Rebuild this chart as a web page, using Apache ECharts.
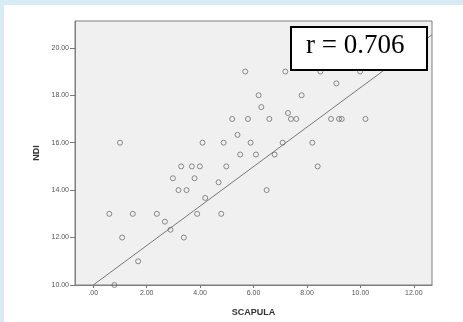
<!DOCTYPE html>
<html>
<head>
<meta charset="utf-8">
<script src="https://cdn.jsdelivr.net/npm/echarts@6/dist/echarts.min.js"></script>
<style>
html,body{margin:0;padding:0;background:#fff;}
#c{width:463px;height:322px;}
</style>
</head>
<body>
<div id="c"></div>
<script>
// Scatter data: SCAPULA (x) vs NDI (y)
const scapula = [0.6,1.0,1.08,0.79,1.48,1.68,2.38,2.68,2.89,2.98,3.19,3.29,3.39,3.49,3.69,3.79,3.89,3.99,4.09,4.19,4.69,4.79,4.88,4.98,5.2,5.4,5.5,5.69,5.79,5.89,6.09,6.19,6.29,6.49,6.59,6.79,7.09,7.19,7.29,7.4,7.6,7.8,8.2,8.4,8.5,8.9,9.1,9.2,9.3,9.99,10.19];
const ndi     = [13,16,12,10,13,11,13,12.67,12.33,14.5,14,15,12,14,15,14.5,13,15,16,13.67,14.33,13,16,15,17,16.33,15.5,19,17,16,15.5,18,17.5,14,17,15.5,16,19,17.25,17,17,18,16,15,19,17,18.5,17,17,19,17];
// Fit line endpoints
const fitX = [0, 12.68];
const fitY = [10, 20.55];
const xTicks = [0,2,4,6,8,10,12];
const yTicks = [10,12,14,16,18,20];
const rText = 'r = 0.706';

const pts = scapula.map((x,i)=>[x, ndi[i]]);
const fit = fitX.map((x,i)=>[x, fitY[i]]);
const fmt = v => (Math.abs(v) < 1e-9 ? '.00' : Number(v).toFixed(2));

const chart = echarts.init(document.getElementById('c'), null, {renderer:'canvas'});
chart.setOption({
  backgroundColor:'#ffffff',
  animation:false,
  grid:{left:75, top:21, width:357, height:268, show:true, backgroundColor:'#f0f0f0', borderColor:'#7f7f7f', borderWidth:1},
  xAxis:{
    type:'value', min:-0.684, max:12.68,
    name:'SCAPULA', nameLocation:'middle', nameGap:23,
    nameTextStyle:{fontFamily:'Liberation Sans, Arial', fontWeight:'bold', fontSize:9, color:'#333'},
    axisLine:{show:true, onZero:false, lineStyle:{color:'#7f7f7f'}},
    axisTick:{show:true, length:3, lineStyle:{color:'#777'}, customValues:xTicks},
    axisLabel:{fontFamily:'Liberation Sans, Arial', fontSize:7, color:'#555', margin:5, formatter:fmt, customValues:xTicks},
    splitLine:{show:false}
  },
  yAxis:{
    type:'value', min:10, max:21.13,
    name:'NDI', nameLocation:'middle', nameGap:32, nameRotate:90,
    nameTextStyle:{fontFamily:'Liberation Sans, Arial', fontWeight:'bold', fontSize:9, color:'#333'},
    axisLine:{show:true, onZero:false, lineStyle:{color:'#7f7f7f'}},
    axisTick:{show:true, length:5, lineStyle:{color:'#777'}, customValues:yTicks},
    axisLabel:{fontFamily:'Liberation Sans, Arial', fontSize:7, color:'#555', margin:6, formatter:fmt, customValues:yTicks},
    splitLine:{show:false}
  },
  series:[
    {type:'line', data:fit, symbol:'none', lineStyle:{color:'#777', width:1}, clip:true, z:2},
    {type:'scatter', data:pts, symbol:'circle', symbolSize:5,
     itemStyle:{color:'rgba(240,240,240,0)', borderColor:'#6e6e6e', borderWidth:1}, z:3}
  ],
  graphic:[
    {type:'rect', shape:{x:0,y:0,width:463,height:5}, style:{fill:'#d8ebf2'}, z:10},
    {type:'rect', shape:{x:0,y:0,width:4,height:322}, style:{fill:'#d8ebf2'}, z:10},
    {type:'rect', shape:{x:291,y:27,width:136,height:43}, style:{fill:'#ffffff', stroke:'#000', lineWidth:2}, z:20},
    {type:'text', left:306, top:32, style:{text:rText, font:'27px "Liberation Serif", "Times New Roman", serif', fill:'#000'}, z:21}
  ]
});
</script>
</body>
</html>
